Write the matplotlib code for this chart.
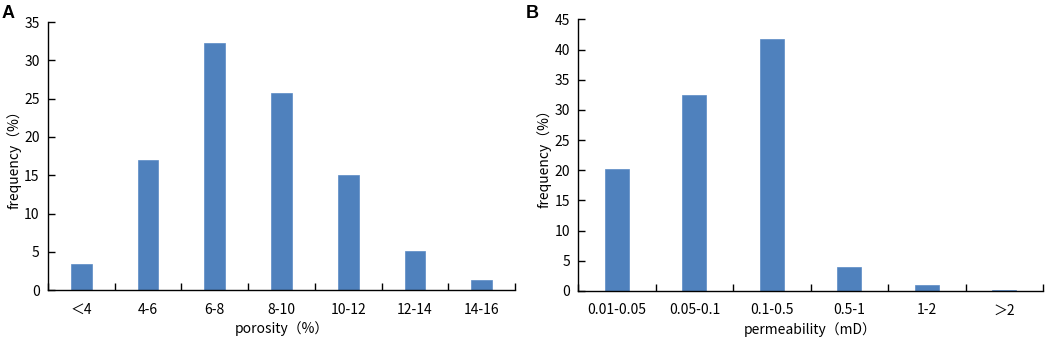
import matplotlib
matplotlib.use("Agg")
import matplotlib.pyplot as plt
import numpy as np

plt.rcParams['font.family'] = ['Noto Sans CJK SC', 'DejaVu Sans']

porosity_cats = ["＜4", "4-6", "6-8", "8-10", "10-12", "12-14", "14-16"]
porosity_freq = [3.4, 17.0, 32.3, 25.8, 15.0, 5.1, 1.3]

perm_cats = ["0.01-0.05", "0.05-0.1", "0.1-0.5", "0.5-1", "1-2", "＞2"]
perm_freq = [20.2, 32.4, 41.7, 4.0, 1.0, 0.1]

BAR = "#4F81BD"
FS = 10

fig = plt.figure(figsize=(10.52, 3.39), dpi=100)
axA = fig.add_axes([0.0456, 0.1437, 0.4439, 0.7914])
axB = fig.add_axes([0.5497, 0.1416, 0.4417, 0.8014])


def style(ax, cats, vals, ymax, ystep, xlabel):
    n = len(cats)
    x = np.arange(n)
    ax.bar(x, vals, width=0.31, color=BAR, edgecolor="#5B8BC6", linewidth=0.5, zorder=2)
    ax.set_xlim(-0.5, n - 0.5)
    ax.set_ylim(0, ymax)
    ax.set_yticks(np.arange(0, ymax + 0.1, ystep))
    ax.set_xticks(x)
    ax.set_xticklabels(cats)
    ax.set_xticks(np.arange(-0.5, n, 1.0), minor=True)
    ax.tick_params(axis='x', which='major', length=0, labelsize=FS, pad=9)
    ax.tick_params(axis='x', which='minor', direction='in', length=5, width=1)
    ax.tick_params(axis='y', which='major', direction='in', length=5, width=1, labelsize=FS, pad=6)
    for s in ['top', 'right']:
        ax.spines[s].set_visible(False)
    for s in ['left', 'bottom']:
        ax.spines[s].set_linewidth(1.0)
        ax.spines[s].set_color('black')
    ax.set_ylabel("frequency（%）", fontsize=FS, labelpad=2)
    ax.set_xlabel(xlabel, fontsize=FS, labelpad=3)


style(axA, porosity_cats, porosity_freq, 35, 5, "porosity（%）")
style(axB, perm_cats, perm_freq, 45, 5, "permeability（mD）")

fig.text(0.001, 0.985, "A", fontsize=13, fontweight='bold', family='Liberation Sans', va='top', ha='left')
fig.text(0.4995, 0.985, "B", fontsize=13, fontweight='bold', family='Liberation Sans', va='top', ha='left')

fig.savefig("out.png", dpi=100)
